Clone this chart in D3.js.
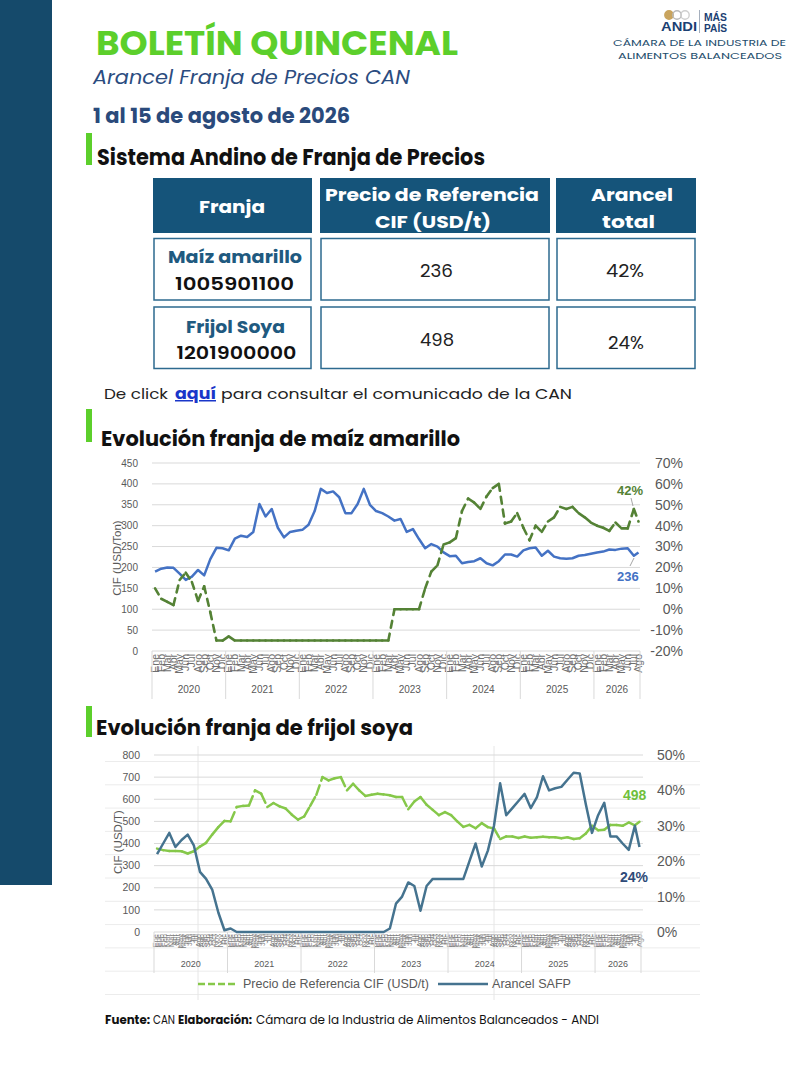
<!DOCTYPE html>
<html><head><meta charset="utf-8">
<script src="https://cdn.jsdelivr.net/npm/d3@7/dist/d3.min.js"></script>
<style>
html,body{margin:0;padding:0;background:#fff;}
svg{display:block;}
</style></head><body>
<svg id="page" width="810" height="1080"></svg>
<script>
// ---------------- DATA ----------------
const monthLabels = ["Ene","Feb","Mar","Abr","May","Jun","Jul","Ago","Sep","Oct","Nov","Dic"];
const yearLabels = ["2020","2021","2022","2023","2024","2025","2026"];
const maizTicksLeft = [0,50,100,150,200,250,300,350,400,450];
const maizTicksRight = [-20,-10,0,10,20,30,40,50,60,70];
const soyaTicksLeft = [0,100,200,300,400,500,600,700,800];
const soyaTicksRight = [0,10,20,30,40,50];

// Monthly values Jan 2020 - Aug 2026 (80 months)
const maizPrecio = [
  190,197,200,199,185,170,178,194,181,220,247,246,
  241,269,276,273,285,352,322,340,295,272,285,288,
  290,302,335,388,378,382,368,330,330,352,388,350,
  335,330,322,312,316,285,292,268,246,256,250,236,
  227,228,210,213,215,222,210,205,215,231,231,226,
  241,246,248,228,240,226,222,221,222,228,230,233,
  236,238,243,242,245,246,228,236];
const maizArancel = [
  10,5,3.5,2,14,17.5,13,4,11,-1.5,-15,-15,
  -13,-15,-15,-15,-15,-15,-15,-15,-15,-15,-15,-15,
  -15,-15,-15,-15,-15,-15,-15,-15,-15,-15,-15,-15,
  -15,-15,-15,0,0,0,0,0,10,18,21,31,
  32,34,47,53,51,48,54,58,60,41,42,46,
  39,33,40,37,42,44,49,48,49,46,44,41.5,
  40,39,37.5,41.5,38.7,38.7,48,42];
const soyaPrecio = [
  377,370,366,366,365,355,365,386,403,440,474,502,
  500,565,570,572,640,625,565,583,568,558,530,508,
  522,570,620,700,685,695,700,640,670,640,615,620,
  625,622,618,610,610,555,590,610,575,552,528,542,
  528,500,475,484,469,492,474,468,420,432,432,425,
  432,426,428,430,428,428,424,428,420,424,445,480,
  460,462,484,484,480,495,482,498];
const soyaArancel = [
  22,25,28,24,26,27.5,24.5,17,15,12,5.5,0.5,
  1,0,0,0,0,0,0,0,0,0,0,0,
  0,0,0,0,0,0,0,0,0,0,0,0,
  0,0,1,8,10,14,13,6,13,15,15,15,
  15,15,15,20,25,18.5,23,30,42,33,35,37,
  39,35,38,44,40,40.6,41,43,45,44.8,36,28,
  33,36.5,27,27,25,23.2,30,24];

const tableHead = [["Franja"],["Precio de Referencia","CIF (USD/t)"],["Arancel","total"]];
const tableRows = [
  {name:"Maíz amarillo", code:"1005901100", precio:"236", arancel:"42%"},
  {name:"Frijol Soya", code:"1201900000", precio:"498", arancel:"24%"}
];

// ---------------- HELPERS ----------------
const HF = "'Poppins','Open Sans','Noto Sans',sans-serif";
const CF = "'Liberation Sans',Arial,sans-serif";
const svg = d3.select('#page');
function T(g, x, y, s, o = {}) {
  const t = g.append('text').attr('x', x).attr('y', y).text(s)
    .attr('font-family', o.ff || HF).attr('font-size', o.fs || 14)
    .attr('font-weight', o.fw || 400).attr('fill', o.fill || '#000');
  if (o.anchor) t.attr('text-anchor', o.anchor);
  if (o.italic) t.attr('font-style', 'italic');
  if (o.len) t.attr('textLength', o.len).attr('lengthAdjust', 'spacingAndGlyphs');
  if (o.deco) t.attr('text-decoration', o.deco);
  return t;
}

// ---------------- PAGE ----------------
svg.append('rect').attr('x',0).attr('y',0).attr('width',52).attr('height',885).attr('fill','#154a6b');

T(svg, 96, 54.5, "BOLETÍN QUINCENAL", {fs:33, fw:700, fill:'#5ccf2b', len:362});
T(svg, 93, 84, "Arancel Franja de Precios CAN", {fs:19, italic:true, fill:'#2b4c7f', len:317});
T(svg, 93, 123, "1 al 15 de agosto de 2026", {fs:21, fw:700, fill:'#2a4a7b', len:257});

// logo
const lg = svg.append('g');
[[669,'#c9a45e',1],[677,'#b9b9b9',0],[685,'#cfcfcf',0]].forEach(([cx,c,f])=>{
  lg.append('circle').attr('cx',cx).attr('cy',15).attr('r',4.2)
    .attr('fill', f ? c : 'none').attr('stroke', c).attr('stroke-width',1.4);
});
T(lg, 661, 31, "ANDI", {ff:CF, fs:13, fw:900, fill:'#1b3f73', len:36});
lg.append('line').attr('x1',699.5).attr('x2',699.5).attr('y1',10).attr('y2',33).attr('stroke','#a5afbd');
T(lg, 704, 21, "MÁS", {ff:CF, fs:10.5, fw:900, fill:'#1b3f73', len:23});
T(lg, 704, 31.5, "PAÍS", {ff:CF, fs:10.5, fw:900, fill:'#1b3f73', len:23});
T(lg, 613, 45.5, "CÁMARA DE LA INDUSTRIA DE", {fs:9.2, fill:'#1e4e6d', len:173});
T(lg, 618, 58.5, "ALIMENTOS BALANCEADOS", {fs:9.2, fill:'#1e4e6d', len:164});

// section heads
svg.append('rect').attr('x',86).attr('y',133).attr('width',6).attr('height',32).attr('fill','#5ccf2b');
T(svg, 97, 165, "Sistema Andino de Franja de Precios", {fs:22, fw:700, fill:'#111', len:388});
svg.append('rect').attr('x',86).attr('y',409).attr('width',6).attr('height',33).attr('fill','#5ccf2b');
T(svg, 101, 446, "Evolución franja de maíz amarillo", {fs:21, fw:700, fill:'#111', len:359});
svg.append('rect').attr('x',86).attr('y',706).attr('width',6).attr('height',31).attr('fill','#5ccf2b');
T(svg, 96, 735, "Evolución franja de frijol soya", {fs:21, fw:700, fill:'#111', len:317});

// ---------------- TABLE ----------------
const tg = svg.append('g');
const cols = [[153,159],[320,230],[556,140]];
cols.forEach(([x,w])=>{
  tg.append('rect').attr('x',x).attr('y',178).attr('width',w).attr('height',55).attr('fill','#15547a');
});
T(tg, 199, 213, tableHead[0][0], {fs:18, fw:700, fill:'#fff', len:66});
T(tg, 325, 201, tableHead[1][0], {fs:17, fw:700, fill:'#fff', len:214});
T(tg, 375, 228, tableHead[1][1], {fs:17, fw:700, fill:'#fff', len:116});
T(tg, 591, 201, tableHead[2][0], {fs:17, fw:700, fill:'#fff', len:82});
T(tg, 602, 228, tableHead[2][1], {fs:17, fw:700, fill:'#fff', len:53});
const rowY = [238.5, 307];
rowY.forEach((ry)=>{
  cols.forEach(([x,w])=>{
    tg.append('rect').attr('x',x+1).attr('y',ry).attr('width',w-2).attr('height',61.5)
      .attr('fill','#fff').attr('stroke','#2d6a8f').attr('stroke-width',1.5);
  });
});
T(tg, 168, 263, tableRows[0].name, {fs:17, fw:700, fill:'#1f5a80', len:134});
T(tg, 175, 290, tableRows[0].code, {fs:17, fw:600, fill:'#111', len:119});
T(tg, 420, 277, tableRows[0].precio, {fs:18, fill:'#222', len:33});
T(tg, 606, 277, tableRows[0].arancel, {fs:18, fill:'#222', len:38});
T(tg, 186, 332.5, tableRows[1].name, {fs:17, fw:700, fill:'#1f5a80', len:99});
T(tg, 176.5, 358.5, tableRows[1].code, {fs:17, fw:600, fill:'#111', len:120});
T(tg, 420, 346, tableRows[1].precio, {fs:18, fill:'#222', len:34});
T(tg, 608, 349, tableRows[1].arancel, {fs:18, fill:'#222', len:36});

T(svg, 104, 399, "De click", {fs:15, fill:'#222', len:64});
T(svg, 175, 399, "aquí", {fs:15, fw:700, fill:'#1a36c9', len:41, deco:'underline'});
T(svg, 221, 399, "para consultar el comunicado de la CAN", {fs:15, fill:'#222', len:351});

// ---------------- CHART helpers ----------------
const N = maizPrecio.length;
const pos = i => Math.min(i + 0.5, N - 0.75);
const yearBounds = [0,12,24,36,48,60,72,N-0.5];

function dashedSegments(g, data, x, y, color, width, dash) {
  const pts = data.map((v,i)=>[x(pos(i)), y(v)]);
  g.selectAll(null).data(d3.pairs(pts)).join('line')
    .attr('x1', d=>d[0][0]).attr('y1', d=>d[0][1])
    .attr('x2', d=>d[1][0]).attr('y2', d=>d[1][1])
    .attr('stroke', color).attr('stroke-width', width)
    .attr('stroke-dasharray', dash).attr('stroke-linecap','round');
}

// ---------------- CHART 1 (maíz) ----------------
const c1 = svg.append('g');
const x1 = d3.scaleLinear().domain([0, N-0.5]).range([152, 640]);
const yL1 = d3.scaleLinear().domain([0,450]).range([651,463]);
const yR1 = d3.scaleLinear().domain([-20,70]).range([651,463]);

c1.selectAll(null).data(maizTicksLeft).join('line')
  .attr('x1',152).attr('x2',640).attr('y1',d=>yL1(d)).attr('y2',d=>yL1(d))
  .attr('stroke','#d9d9d9').attr('stroke-width',1);
c1.selectAll(null).data(maizTicksLeft).join('text')
  .attr('x',138).attr('y',d=>yL1(d)).attr('dy','0.35em').attr('text-anchor','end')
  .attr('font-family',CF).attr('font-size',10).attr('fill','#595959').text(d=>d);
c1.selectAll(null).data(maizTicksRight).join('text')
  .attr('x',683).attr('y',d=>yR1(d)).attr('dy','0.35em').attr('text-anchor','end')
  .attr('font-family',CF).attr('font-size',14).attr('fill','#595959').text(d=>d+'%');
c1.append('text').attr('transform','translate(121,558) rotate(-90)').attr('text-anchor','middle')
  .attr('font-family',CF).attr('font-size',11.5).attr('fill','#595959').text('CIF (USD/Ton)');

c1.selectAll(null).data(d3.range(N)).join('text')
  .attr('transform', i=>`translate(${x1(pos(i))+3.6},654) rotate(-90)`).attr('text-anchor','end')
  .attr('font-family',CF).attr('font-size',10.5).attr('fill','#6f6f6f').text(i=>monthLabels[i%12]);
c1.selectAll(null).data(yearBounds).join('line')
  .attr('x1',d=>x1(d)).attr('x2',d=>x1(d)).attr('y1',651).attr('y2',699)
  .attr('stroke','#d9d9d9');
c1.selectAll(null).data(yearLabels).join('text')
  .attr('x',(d,k)=>(x1(yearBounds[k])+x1(yearBounds[k+1]))/2).attr('y',693).attr('text-anchor','middle')
  .attr('font-family',CF).attr('font-size',10).attr('fill','#595959').text(d=>d);

c1.append('path').datum(maizPrecio)
  .attr('d', d3.line().x((d,i)=>x1(pos(i))).y(d=>yL1(d)))
  .attr('fill','none').attr('stroke','#4472c4').attr('stroke-width',2.5).attr('stroke-linejoin','round');
dashedSegments(c1, maizArancel, x1, yR1, '#548235', 2.6, '7,6');

c1.append('line').attr('x1',631).attr('y1',498).attr('x2',633).attr('y2',506).attr('stroke','#a6a6a6');
T(c1, 617, 495, maizArancel[N-1]+'%', {ff:CF, fs:13, fw:700, fill:'#548235'});
c1.append('line').attr('x1',630).attr('y1',566).attr('x2',634).attr('y2',558).attr('stroke','#a6a6a6');
T(c1, 617, 581, String(maizPrecio[N-1]), {ff:CF, fs:13, fw:700, fill:'#4472c4'});

// ---------------- CHART 2 (soya) ----------------
const c2 = svg.append('g');
const x2 = d3.scaleLinear().domain([0, N-0.5]).range([154, 641]);
const yL2 = d3.scaleLinear().domain([0,800]).range([932,755]);
const yR2 = d3.scaleLinear().domain([0,50]).range([932,755]);

// sheet cell lines behind chart
c2.selectAll(null).data(d3.range(11)).join('line')
  .attr('x1',105).attr('x2',700).attr('y1',k=>761.5+23.3*k).attr('y2',k=>761.5+23.3*k)
  .attr('stroke','#ececec');
c2.selectAll(null).data([198,494]).join('line')
  .attr('x1',d=>d).attr('x2',d=>d).attr('y1',746).attr('y2',1000).attr('stroke','#e6e6e6');

c2.selectAll(null).data(soyaTicksLeft).join('line')
  .attr('x1',154).attr('x2',643).attr('y1',d=>yL2(d)).attr('y2',d=>yL2(d))
  .attr('stroke','#d9d9d9');
c2.selectAll(null).data(soyaTicksLeft).join('text')
  .attr('x',140).attr('y',d=>yL2(d)).attr('dy','0.35em').attr('text-anchor','end')
  .attr('font-family',CF).attr('font-size',10.5).attr('fill','#595959').text(d=>d);
c2.selectAll(null).data(soyaTicksRight).join('text')
  .attr('x',657).attr('y',d=>yR2(d)).attr('dy','0.35em')
  .attr('font-family',CF).attr('font-size',14).attr('fill','#595959').text(d=>d+'%');
c2.append('text').attr('transform','translate(122,842) rotate(-90)').attr('text-anchor','middle')
  .attr('font-family',CF).attr('font-size',11.5).attr('fill','#595959').text('CIF (USD/T)');

const quincenas = d3.range(2*N - 1);
c2.selectAll(null).data(quincenas).join('text')
  .attr('transform', q=>`translate(${x2(q*0.5+0.25)+2.7},934) rotate(-90)`).attr('text-anchor','end')
  .attr('font-family',CF).attr('font-size',7.5).attr('fill','#7f7f7f').text(q=>monthLabels[Math.floor(q/2)%12]);
c2.selectAll(null).data(yearBounds).join('line')
  .attr('x1',d=>x2(d)).attr('x2',d=>x2(d)).attr('y1',932).attr('y2',973)
  .attr('stroke','#d9d9d9');
c2.selectAll(null).data(yearLabels).join('text')
  .attr('x',(d,k)=>(x2(yearBounds[k])+x2(yearBounds[k+1]))/2).attr('y',967).attr('text-anchor','middle')
  .attr('font-family',CF).attr('font-size',9).attr('fill','#595959').text(d=>d);

dashedSegments(c2, soyaPrecio, x2, yL2, '#86c84a', 2.5, '10,5');
c2.append('path').datum(soyaArancel)
  .attr('d', d3.line().x((d,i)=>x2(pos(i))).y(d=>yR2(d)))
  .attr('fill','none').attr('stroke','#45738f').attr('stroke-width',2.5).attr('stroke-linejoin','round');

T(c2, 623, 800, String(soyaPrecio[N-1]), {ff:CF, fs:14, fw:700, fill:'#6fbf3c'});
T(c2, 620, 882, soyaArancel[N-1]+'%', {ff:CF, fs:14, fw:700, fill:'#2e4a78'});

// legend
c2.append('line').attr('x1',198).attr('x2',238).attr('y1',984).attr('y2',984)
  .attr('stroke','#86c84a').attr('stroke-width',2.5).attr('stroke-dasharray','7,3');
T(c2, 243, 988, "Precio de Referencia CIF (USD/t)", {ff:CF, fs:12.5, fill:'#595959', len:186});
c2.append('line').attr('x1',438).attr('x2',488).attr('y1',984).attr('y2',984)
  .attr('stroke','#45738f').attr('stroke-width',2.5);
T(c2, 492, 988, "Arancel SAFP", {ff:CF, fs:12.5, fill:'#595959', len:79});

// footer
T(svg, 105, 1024, "Fuente:", {fs:12, fw:700, fill:'#111', len:45});
T(svg, 153, 1024, "CAN", {fs:12, fill:'#111', len:22});
T(svg, 178, 1024, "Elaboración:", {fs:12, fw:700, fill:'#111', len:74});
T(svg, 256, 1024, "Cámara de la Industria de Alimentos Balanceados - ANDI", {fs:12, fill:'#111', len:343});
</script>
</body></html>
